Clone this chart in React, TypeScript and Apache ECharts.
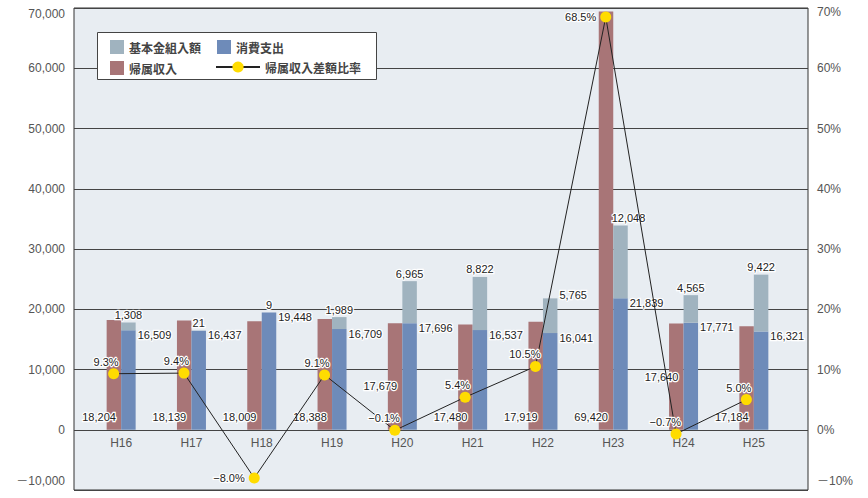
import React, { useEffect, useRef } from 'react';
import * as echarts from 'echarts';

// ---- data ----
const categories = ['H16', 'H17', 'H18', 'H19', 'H20', 'H21', 'H22', 'H23', 'H24', 'H25'];
const incomeValues = [18204, 18139, 18009, 18388, 17679, 17480, 17919, 69420, 17640, 17184];
const expenseValues = [16509, 16437, 19448, 16709, 17696, 16537, 16041, 21839, 17771, 16321];
const reserveValues = [1308, 21, 9, 1989, 6965, 8822, 5765, 12048, 4565, 9422];
const ratioValues = [9.3, 9.4, -8.0, 9.1, -0.1, 5.4, 10.5, 68.5, -0.7, 5.0];
const leftTickLabels = ['－10,000', '0', '10,000', '20,000', '30,000', '40,000', '50,000', '60,000', '70,000'];
const rightTickLabels = ['－10%', '0%', '10%', '20%', '30%', '40%', '50%', '60%', '70%'];

const S_RESERVE = '基本金組入額';
const S_EXPENSE = '消費支出';
const S_INCOME = '帰属収入';
const S_RATIO = '帰属収入差額比率';

const Y_MIN = -10000;
const Y_MAX = 70000;
const Y_STEP = 10000;
const R_MIN = -10;
const R_MAX = 70;
const R_STEP = 10;

const C_INCOME = '#a87577';
const C_EXPENSE = '#6e8bb9';
const C_RESERVE = '#a0b3bf';
const C_DOT = '#ffdc00';

const NUM_FONT = "'Liberation Sans Narrow', 'Liberation Sans', Arial, sans-serif";
const AXIS_FONT = "'Liberation Sans', Arial, 'Noto Sans CJK JP', sans-serif";
const JP_FONT = "'Noto Sans CJK JP', sans-serif";

const fmt = (v: number) => Math.round(v).toString().replace(/\B(?=(\d{3})+(?!\d))/g, ',');
const fmtPct = (v: number) => (v < 0 ? '−' + Math.abs(v).toFixed(1) : v.toFixed(1)) + '%';

export default function App() {
  const ref = useRef<HTMLDivElement>(null);

  useEffect(() => {
    document.body.style.margin = '0';
    if (!ref.current) return;
    const chart = echarts.init(ref.current, undefined, { renderer: 'svg' });

    const numLabel = {
      show: true,
      fontFamily: NUM_FONT,
      fontSize: 11,
      color: '#222',
      textBorderColor: '#fff',
      textBorderWidth: 2.5,
    };

    const incomeLabelOverride: Record<number, any> = {
      4: { offset: [2, -38] },
      8: { offset: [2, -47] },
    };
    const reserveLabelOverride: Record<number, any> = {
      6: { position: ['100%', 0], align: 'left', verticalAlign: 'middle', offset: [2, -3] },
      7: { offset: [8, 0] },
    };
    const ratioLabelOverride: Record<number, any> = {
      2: { position: 'left', align: 'right', offset: [0, 0], distance: 4 },
      7: { position: 'left', align: 'right', offset: [0, 0], distance: 4 },
    };

    const legendCommon = {
      orient: 'horizontal',
      itemWidth: 14,
      itemHeight: 14,
      padding: 0,
      selectedMode: false,
      z: 10,
      textStyle: { fontFamily: JP_FONT, fontSize: 12, color: '#444', fontWeight: 'bold' },
    };

    const axisLabelBase = { color: '#555', fontSize: 12, fontFamily: AXIS_FONT };
    const edgeRich = {
      top: { ...axisLabelBase, padding: [12, 0, 0, 0] },
      topR: { ...axisLabelBase, padding: [8, 0, 0, 0] },
      bot: { ...axisLabelBase, padding: [0, 0, 18, 0] },
    };

    const option: any = {
      animation: false,
      backgroundColor: '#ffffff',
      grid: [
        {
          left: 74, right: 60, top: 8, bottom: 8, show: true,
          backgroundColor: '#e8edf2', borderColor: '#333', borderWidth: 1,
          containLabel: false, outerBoundsMode: 'none',
        },
        { left: 86, right: 79, top: 8, bottom: 8, containLabel: false, outerBoundsMode: 'none' },
        { left: 78.5, right: 86.5, top: 8, bottom: 8, containLabel: false, outerBoundsMode: 'none' },
      ],
      xAxis: [
        { type: 'value', gridIndex: 0, min: 0, max: 1, show: false },
        {
          type: 'category', gridIndex: 1, data: categories, position: 'bottom', offset: -60,
          axisLine: { show: false, onZero: false },
          axisTick: { show: false },
          splitLine: { show: false },
          axisLabel: { ...axisLabelBase, margin: 7 },
        },
        { type: 'category', gridIndex: 2, data: categories, show: false },
      ],
      yAxis: [
        {
          type: 'value', gridIndex: 0, position: 'left', min: Y_MIN, max: Y_MAX, interval: Y_STEP,
          axisLine: { show: false }, axisTick: { show: false },
          splitLine: { show: true, lineStyle: { color: '#444', width: 1 } },
          axisLabel: {
            ...axisLabelBase, margin: 9, showMinLabel: true, showMaxLabel: true, rich: edgeRich,
            formatter: (v: number) => {
              const i = Math.round((v - Y_MIN) / Y_STEP);
              const s = leftTickLabels[i];
              if (i === leftTickLabels.length - 1) return '{top|' + s + '}';
              if (i === 0) return '{bot|' + s + '}';
              return s;
            },
          },
        },
        {
          type: 'value', gridIndex: 0, position: 'right', min: R_MIN, max: R_MAX, interval: R_STEP,
          axisLine: { show: false }, axisTick: { show: false }, splitLine: { show: false },
          axisLabel: {
            ...axisLabelBase, margin: 9, showMinLabel: true, showMaxLabel: true, rich: edgeRich,
            formatter: (v: number) => {
              const i = Math.round((v - R_MIN) / R_STEP);
              const s = rightTickLabels[i];
              if (i === rightTickLabels.length - 1) return '{topR|' + s + '}';
              if (i === 0) return '{bot|' + s + '}';
              return s;
            },
          },
        },
        { type: 'value', gridIndex: 1, min: Y_MIN, max: Y_MAX, interval: Y_STEP, show: false },
        { type: 'value', gridIndex: 2, min: R_MIN, max: R_MAX, interval: R_STEP, show: false },
      ],
      legend: [
        { ...legendCommon, data: [{ name: S_RESERVE, icon: 'rect' }], left: 110, top: 40 },
        { ...legendCommon, data: [{ name: S_EXPENSE, icon: 'rect' }], left: 217, top: 40 },
        { ...legendCommon, data: [{ name: S_INCOME, icon: 'rect' }], left: 110, top: 61 },
        { ...legendCommon, data: [{ name: S_RATIO }], left: 215, top: 61, itemWidth: 44 },
      ],
      graphic: [
        {
          type: 'rect', z: 6,
          shape: { x: 97.5, y: 32.5, width: 279, height: 47 },
          style: { fill: '#ffffff', stroke: '#444', lineWidth: 1 },
        },
      ],
      series: [
        {
          name: S_INCOME, type: 'bar', xAxisIndex: 1, yAxisIndex: 2,
          barWidth: 14.5, barGap: '0%',
          itemStyle: { color: C_INCOME },
          label: {
            ...numLabel, position: ['50%', '100%'], align: 'right', verticalAlign: 'bottom', offset: [2, -7],
            formatter: (p: any) => fmt(p.value),
          },
          data: incomeValues.map((v, i) => (incomeLabelOverride[i] ? { value: v, label: incomeLabelOverride[i] } : v)),
        },
        {
          name: S_EXPENSE, type: 'bar', xAxisIndex: 1, yAxisIndex: 2, stack: 'exp',
          barWidth: 14.5, barGap: '0%',
          itemStyle: { color: C_EXPENSE },
          label: {
            ...numLabel, position: ['100%', 0], align: 'left', verticalAlign: 'top', offset: [2, -1],
            formatter: (p: any) => fmt(p.value),
          },
          data: expenseValues,
        },
        {
          name: S_RESERVE, type: 'bar', xAxisIndex: 1, yAxisIndex: 2, stack: 'exp',
          barWidth: 14.5, barGap: '0%',
          itemStyle: { color: C_RESERVE },
          label: { ...numLabel, position: 'top', distance: 2, formatter: (p: any) => fmt(p.value) },
          data: reserveValues.map((v, i) => (reserveLabelOverride[i] ? { value: v, label: reserveLabelOverride[i] } : v)),
        },
        {
          name: S_RATIO, type: 'line', xAxisIndex: 2, yAxisIndex: 3, z: 5,
          symbol: 'circle', symbolSize: 11,
          lineStyle: { color: '#222', width: 1 },
          itemStyle: { color: C_DOT },
          label: {
            ...numLabel, position: 'top', align: 'right', offset: [5, 0], distance: 1,
            formatter: (p: any) => fmtPct(p.value),
          },
          data: ratioValues.map((v, i) => (ratioLabelOverride[i] ? { value: v, label: ratioLabelOverride[i] } : v)),
        },
      ],
    };

    chart.setOption(option);
    return () => chart.dispose();
  }, []);

  return <div ref={ref} style={{ width: 868, height: 498 }} />;
}
